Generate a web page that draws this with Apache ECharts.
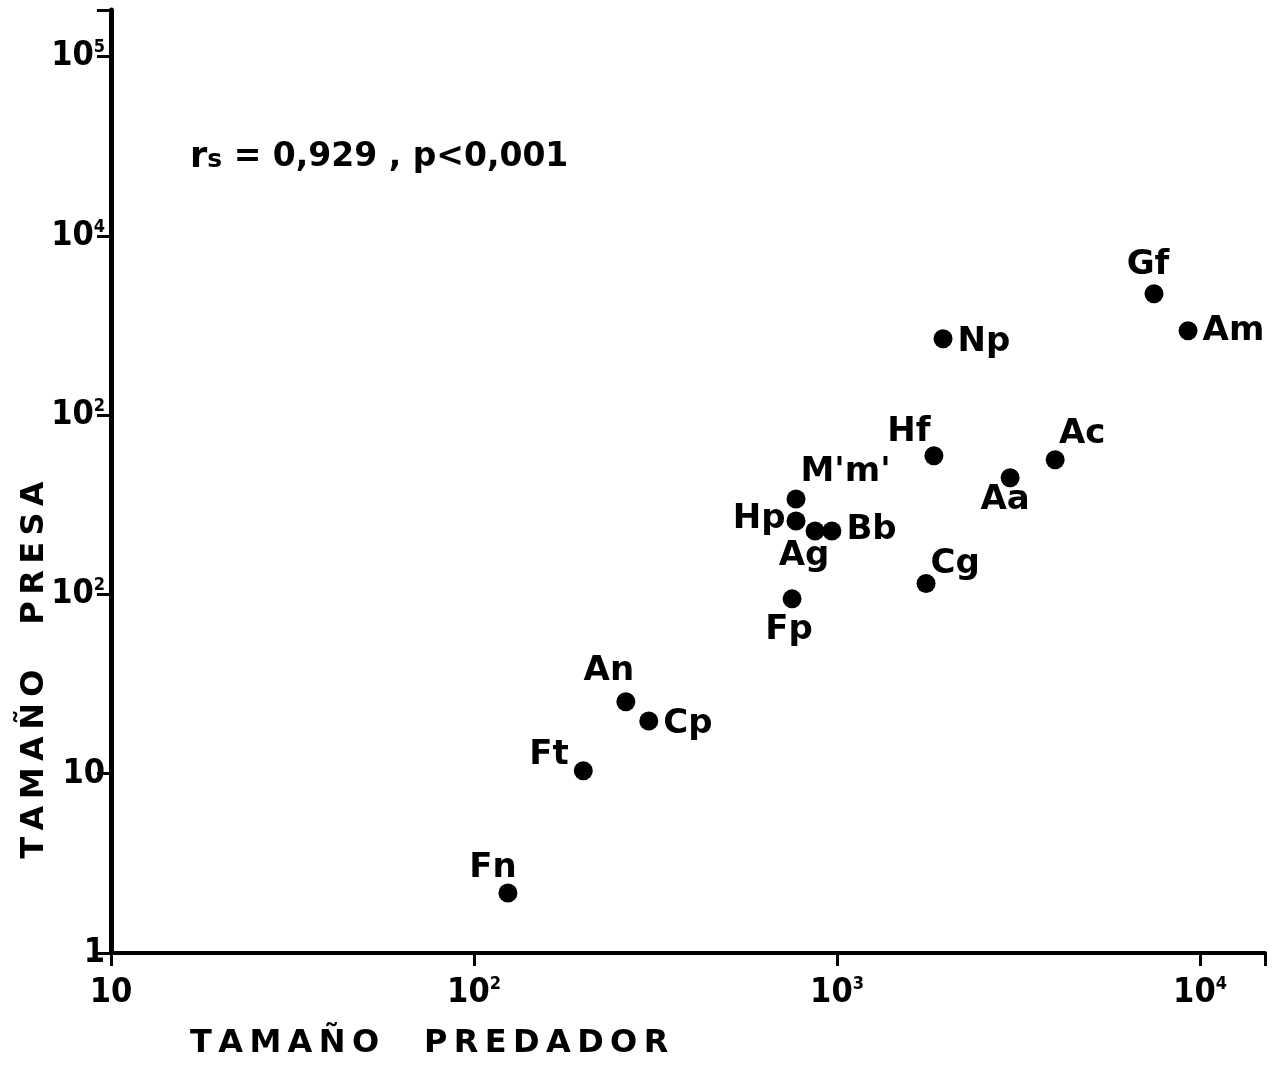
<!DOCTYPE html>
<html>
<head>
<meta charset="utf-8">
<script src="https://cdn.jsdelivr.net/npm/echarts@6/dist/echarts.min.js"></script>
<style>
html, body { margin: 0; padding: 0; background: #fff; }
#main { width: 1272px; height: 1070px; }
</style>
</head>
<body>
<div id="main"></div>
<script>
// species codes with predator size and prey size (log-log plot)
let species = ['Fn', 'Ft', 'An', 'Cp', 'Fp', 'Hp', "M'm'", 'Ag', 'Bb', 'Cg', 'Hf', 'Np', 'Aa', 'Ac', 'Gf', 'Am']
let predatorSize = [124, 200, 262, 303, 752, 771, 771, 870, 968, 1759, 1849, 1959, 2998, 3990, 7468, 9270]
let preySize = [2.16, 10.4, 25.2, 19.7, 94.5, 257, 341, 226, 226, 115, 594, 2670, 448, 564, 4757, 2958]

// tick labels, one per decade starting at the axis minimum: [base, exponent]
// (the 10^3 label on the prey axis is printed as 10² in the original)
let xTickLabels = [['10', ''], ['10', '2'], ['10', '3'], ['10', '4']]
let yTickLabels = [['1', ''], ['10', ''], ['10', '2'], ['10', '2'], ['10', '4'], ['10', '5']]

// where each code sits around its dot
let labelPlace = {
    'Fn': { position: 'top', offset: [-15, 7] },
    'Ft': { position: 'left', offset: [0, -15] },
    'An': { position: 'top', offset: [-17, 1] },
    'Cp': { position: 'right', offset: [0, 3] },
    'Fp': { position: 'bottom', offset: [-3, 0] },
    'Hp': { position: 'left', offset: [4, -2] },
    "M'm'": { position: 'right', offset: [-10, -27] },
    'Ag': { position: 'bottom', offset: [-11, -6] },
    'Bb': { position: 'right', offset: [0, -1] },
    'Cg': { position: 'right', offset: [-10, -19] },
    'Hf': { position: 'top', offset: [-25, 8] },
    'Np': { position: 'right', offset: [0, 3] },
    'Aa': { position: 'bottom', offset: [-5, -9] },
    'Ac': { position: 'top', offset: [27, 6] },
    'Gf': { position: 'top', offset: [-6, 3] },
    'Am': { position: 'right', offset: [0, 0] }
}

function decadeLabel(labels, firstExp) {
    return function (v) {
        let e = Math.log10(v)
        let r = Math.round(e)
        if (Math.abs(e - r) > 1e-6) return ''
        let l = labels[r - firstExp]
        if (!l) return ''
        return l[1] ? '{b|' + l[0] + '}{e|' + l[1] + '}' : '{b|' + l[0] + '}'
    }
}

let tickFont = 'DejaVu Sans Condensed'
let textFont = 'DejaVu Sans'
let thin = '\u2009'
function spaced(word) { return word.split('').join(thin) }

let tickRich = {
    b: { fontFamily: tickFont, fontWeight: 'bold', fontSize: 34, lineHeight: 36, color: '#000' },
    e: { fontFamily: tickFont, fontWeight: 'bold', fontSize: 18, lineHeight: 18, padding: [0, 0, 18, 0], color: '#000' }
}

let points = species.map((name, i) => ({
    name: name,
    value: [predatorSize[i], preySize[i]],
    label: labelPlace[name]
}))

let mychart = echarts.init(document.getElementById('main'))
let option = {
    backgroundColor: '#fff',
    animation: false,
    grid: {
        left: 111,
        right: 7,
        top: 10,
        bottom: 117,
        containLabel: false,
        outerBoundsMode: 'none'
    },
    xAxis: {
        type: 'log',
        logBase: 10,
        min: 10,
        max: 15100,
        splitLine: { show: false },
        axisLine: { show: true, onZero: false, lineStyle: { color: '#000', width: 4 } },
        axisTick: { show: true, length: 13, lineStyle: { color: '#000', width: 3 } },
        minorTick: { show: false },
        axisLabel: {
            margin: 22,
            color: '#000',
            formatter: decadeLabel(xTickLabels, 1),
            rich: tickRich
        }
    },
    yAxis: {
        type: 'log',
        logBase: 10,
        min: 1,
        max: 182000,
        splitLine: { show: false },
        axisLine: { show: true, onZero: false, lineStyle: { color: '#000', width: 5 } },
        axisTick: { show: true, length: 14, lineStyle: { color: '#000', width: 3 } },
        minorTick: { show: false },
        axisLabel: {
            margin: 6,
            color: '#000',
            formatter: decadeLabel(yTickLabels, 0),
            rich: tickRich
        }
    },
    graphic: [
        {
            type: 'text',
            left: 190,
            top: 140,
            style: {
                text: '{r|r}{s|s}{t| = 0,929 , p<0,001}',
                rich: {
                    r: { fontFamily: textFont, fontSize: 35, fontWeight: 'bold', fill: '#000', lineHeight: 42 },
                    s: { fontFamily: textFont, fontSize: 25, fontWeight: 'bold', fill: '#000', lineHeight: 36, padding: [6, 0, 0, 0] },
                    t: { fontFamily: textFont, fontSize: 33, fontWeight: 'bold', fill: '#000', lineHeight: 42 }
                }
            }
        },
        {
            type: 'text',
            left: 190,
            top: 1028,
            style: {
                text: spaced('TAMAÑO') + thin + '\u2003' + thin + spaced('PREDADOR'),
                fontFamily: textFont,
                fontWeight: 'bold',
                fontSize: 32,
                fill: '#000'
            }
        },
        {
            type: 'text',
            x: 35,
            y: 670,
            rotation: Math.PI / 2,
            style: {
                text: spaced('TAMAÑO') + thin + '\u2003' + thin + spaced('PRESA'),
                fontFamily: textFont,
                fontWeight: 'bold',
                fontSize: 32,
                fill: '#000',
                align: 'center',
                verticalAlign: 'middle'
            }
        }
    ],
    series: [
        {
            type: 'scatter',
            symbol: 'circle',
            symbolSize: 19,
            itemStyle: { color: '#000', opacity: 1 },
            label: {
                show: true,
                formatter: '{b}',
                color: '#000',
                fontFamily: textFont,
                fontWeight: 'bold',
                fontSize: 34,
                lineHeight: 34,
                distance: 5
            },
            emphasis: { disabled: true },
            data: points
        }
    ]
}
mychart.setOption(option)
</script>
</body>
</html>
